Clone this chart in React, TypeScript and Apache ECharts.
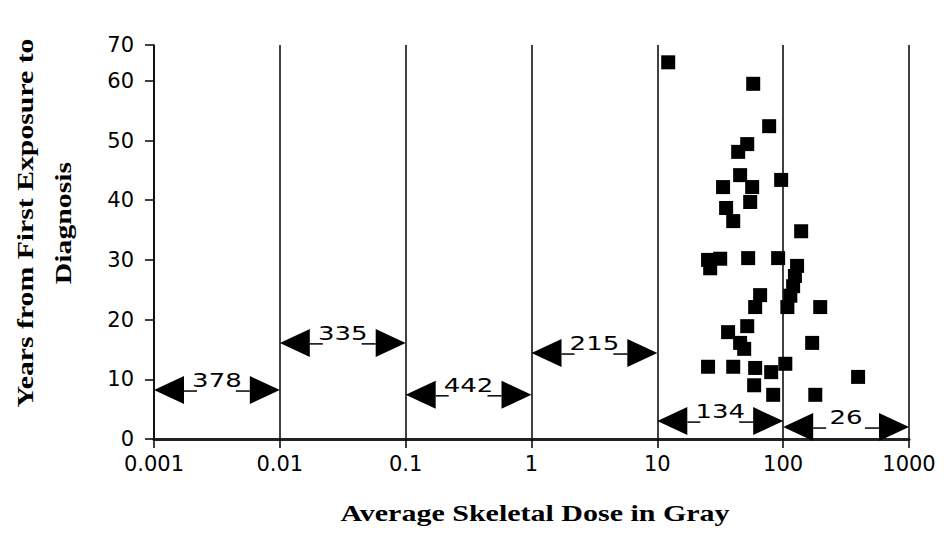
import React, { useEffect, useRef } from "react";
import * as echarts from "echarts";

const xTickLabels = ["0.001", "0.01", "0.1", "1", "10", "100", "1000"];
const yTopLabel = "70";
const xTitle = "Average Skeletal Dose in Gray";
const yTitle = "Years from First Exposure to\nDiagnosis";

const doseGy = [12.2, 57.8, 77.4, 51.8, 43.9, 45.5, 33.3, 56.7, 96.4, 54.7, 35.2, 40.1, 139, 25.3, 31.6, 26.3, 52.7, 91.2, 129, 124, 120, 114, 108, 65.6, 59.9, 197, 51.8, 36.5, 45.5, 49.0, 170, 25.3, 40.1, 59.9, 80.3, 104, 58.8, 83.3, 180, 394];
const yearsToDx = [63.1, 59.5, 52.4, 49.4, 48.1, 44.2, 42.2, 42.2, 43.4, 39.7, 38.7, 36.5, 34.8, 30.0, 30.2, 28.6, 30.3, 30.3, 29.0, 27.3, 25.6, 24.0, 22.1, 24.1, 22.1, 22.1, 18.9, 17.9, 16.1, 15.1, 16.1, 12.1, 12.1, 11.9, 11.2, 12.6, 9.0, 7.4, 7.4, 10.4];

const rangeLow = [0.001, 0.01, 0.1, 1, 10, 100];
const rangeHigh = [0.01, 0.1, 1, 10, 100, 1000];
const rangeCounts = [378, 335, 442, 215, 134, 26];
const arrowYears = [8.2, 16.1, 7.4, 14.4, 3.0, 2.0];

export default function App() {
  const ref = useRef<HTMLDivElement>(null);
  useEffect(() => {
    if (!ref.current) return;
    const chart = echarts.init(ref.current, null, { renderer: "svg" });
    const scatterData = doseGy.map((d, i) => [d, yearsToDx[i]]);
    const arrowData = rangeLow.map((lo, i) => [lo, rangeHigh[i], arrowYears[i], rangeCounts[i]]);
    const titleFont = { fontFamily: "Liberation Serif", fontWeight: "bold", fontSize: 24, fill: "#000" };
    const option: any = {
      animation: false,
      backgroundColor: "#fff",
      grid: { left: 154, right: 40, top: 45, bottom: 110 },
      graphic: [
        {
          type: "text",
          x: 535,
          y: 513,
          scaleX: 1.25,
          style: { ...titleFont, text: xTitle, align: "center", verticalAlign: "middle" },
        },
        {
          type: "text",
          x: 44,
          y: 223,
          rotation: Math.PI / 2,
          scaleX: 1.24,
          style: { ...titleFont, text: yTitle, lineHeight: 38, align: "center", verticalAlign: "middle" },
        },
      ],
      xAxis: {
        type: "log",
        logBase: 10,
        min: 0.001,
        max: 1000,
        splitNumber: 6,
        axisLine: { lineStyle: { color: "#222", width: 3 } },
        axisTick: { show: true, length: 9, lineStyle: { color: "#000", width: 1.5 } },
        axisLabel: {
          margin: 14,
          fontFamily: "DejaVu Sans",
          fontSize: 21,
          color: "#000",
          formatter: (v: number) => xTickLabels[Math.round(Math.log10(v)) + 3] ?? "",
        },
        splitLine: { show: true, lineStyle: { color: "#000", width: 1.5 } },
        minorTick: { show: false },
      },
      yAxis: {
        type: "value",
        min: 0,
        max: 66,
        interval: 10,
        axisLine: { show: true, lineStyle: { color: "#000", width: 1.5 } },
        axisTick: { show: true, length: 9, lineStyle: { color: "#000", width: 1.5 } },
        axisLabel: {
          margin: 20,
          fontFamily: "DejaVu Sans",
          fontSize: 21,
          color: "#000",
          formatter: (v: number) => (v >= 66 ? yTopLabel : String(v)),
        },
        splitLine: { show: false },
      },
      series: [
        {
          type: "scatter",
          data: scatterData,
          symbol: "rect",
          symbolSize: 14,
          itemStyle: { color: "#000", opacity: 1 },
          z: 3,
        },
        {
          type: "custom",
          data: arrowData,
          encode: { x: [0, 1], y: 2 },
          z: 4,
          renderItem: (params: any, api: any) => {
            const lo = api.value(0);
            const hi = api.value(1);
            const y = api.value(2);
            const cnt = api.value(3);
            const p1 = api.coord([lo, y]);
            const p2 = api.coord([hi, y]);
            const pm = api.coord([Math.sqrt(lo * hi), y]);
            const w = 30;
            const h = 14;
            return {
              type: "group",
              children: [
                {
                  type: "polygon",
                  shape: { points: [[p1[0], p1[1]], [p1[0] + w, p1[1] - h], [p1[0] + w, p1[1] + h]] },
                  style: { fill: "#000" },
                },
                {
                  type: "polygon",
                  shape: { points: [[p2[0], p2[1]], [p2[0] - w, p2[1] - h], [p2[0] - w, p2[1] + h]] },
                  style: { fill: "#000" },
                },
                {
                  type: "line",
                  shape: { x1: p1[0] + w, y1: p1[1] + 1, x2: p1[0] + w + 13, y2: p1[1] + 1 },
                  style: { stroke: "#000", lineWidth: 1.5 },
                },
                {
                  type: "line",
                  shape: { x1: p2[0] - w - 14, y1: p2[1] + 1, x2: p2[0] - w, y2: p2[1] + 1 },
                  style: { stroke: "#000", lineWidth: 1.5 },
                },
                {
                  type: "text",
                  x: pm[0],
                  y: pm[1] - 10,
                  scaleX: 1.3,
                  style: {
                    text: String(cnt),
                    fontFamily: "DejaVu Sans",
                    fontSize: 20,
                    fill: "#000",
                    align: "center",
                    verticalAlign: "middle",
                  },
                },
              ],
            };
          },
        },
      ],
    };
    chart.setOption(option);
    return () => chart.dispose();
  }, []);
  return (
    <div
      ref={ref}
      style={{ position: "fixed", left: 0, top: 0, width: 949, height: 549, background: "#fff" }}
    />
  );
}
